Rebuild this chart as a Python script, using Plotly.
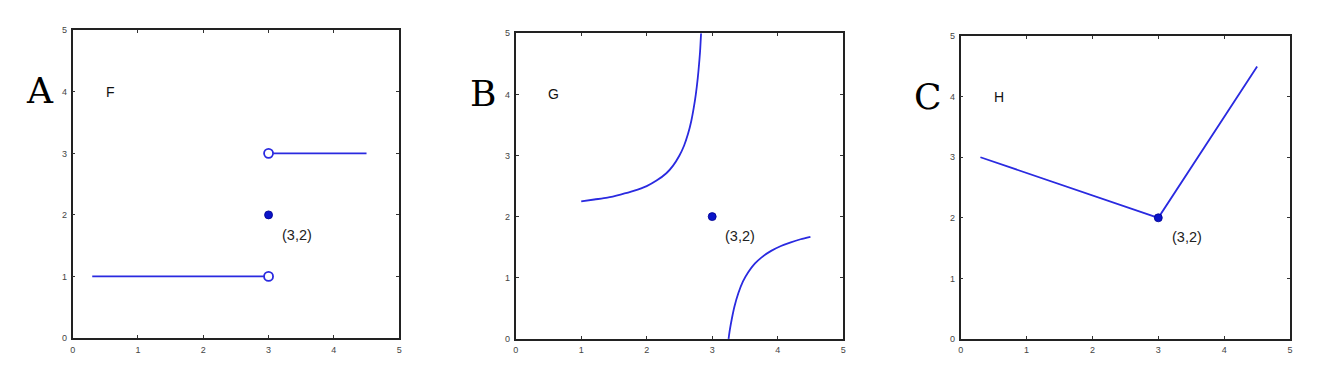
import plotly.graph_objects as go

BLUE = "#2a2ae0"
DOT = "#0a14c8"

# Panel A (F): step function
a_left_x = [0.3, 3.0]
a_left_y = [1.0, 1.0]
a_right_x = [3.0, 4.5]
a_right_y = [3.0, 3.0]
a_open_x = [3.0, 3.0]
a_open_y = [1.0, 3.0]

# Panel B (G): two hyperbola branches
b_up_x = [1.0, 1.2, 1.4, 1.6, 1.8, 2.0, 2.15, 2.3, 2.4, 2.5, 2.57, 2.63, 2.68, 2.72, 2.75, 2.78, 2.8, 2.815, 2.83]
b_up_y = [2.25, 2.28, 2.31, 2.36, 2.42, 2.5, 2.59, 2.71, 2.83, 3.0, 3.16, 3.35, 3.56, 3.79, 4.0, 4.27, 4.5, 4.7, 5.0]
b_lo_x = [3.25, 3.27, 3.3, 3.34, 3.4, 3.47, 3.55, 3.65, 3.75, 3.9, 4.05, 4.2, 4.35, 4.5]
b_lo_y = [0.0, 0.15, 0.33, 0.53, 0.75, 0.94, 1.09, 1.23, 1.33, 1.44, 1.52, 1.58, 1.63, 1.67]

# Panel C (H): piecewise linear
c_x = [0.3, 3.0, 4.5]
c_y = [3.0, 2.0, 4.5]

# Special point
pt_x = [3.0]
pt_y = [2.0]
pt_label = "(3,2)"

panel_letters = ["A", "B", "C"]
panel_names = ["F", "G", "H"]
ticks = [0, 1, 2, 3, 4, 5]

fig = go.Figure()

line_style = dict(color=BLUE, width=1.8)
dot_style = dict(color=DOT, size=8, line=dict(color="#000090", width=0.8))

# A
fig.add_trace(go.Scatter(x=a_left_x, y=a_left_y, mode="lines", line=line_style, xaxis="x", yaxis="y"))
fig.add_trace(go.Scatter(x=a_right_x, y=a_right_y, mode="lines", line=line_style, xaxis="x", yaxis="y"))
fig.add_trace(go.Scatter(x=a_open_x, y=a_open_y, mode="markers",
                         marker=dict(color="white", size=9, line=dict(color=BLUE, width=1.8)),
                         xaxis="x", yaxis="y"))
fig.add_trace(go.Scatter(x=pt_x, y=pt_y, mode="markers", marker=dot_style, xaxis="x", yaxis="y"))

# B
fig.add_trace(go.Scatter(x=b_up_x, y=b_up_y, mode="lines",
                         line=dict(color=BLUE, width=1.8, shape="spline", smoothing=0.8),
                         xaxis="x2", yaxis="y2"))
fig.add_trace(go.Scatter(x=b_lo_x, y=b_lo_y, mode="lines",
                         line=dict(color=BLUE, width=1.8, shape="spline", smoothing=0.8),
                         xaxis="x2", yaxis="y2"))
fig.add_trace(go.Scatter(x=pt_x, y=pt_y, mode="markers", marker=dot_style, xaxis="x2", yaxis="y2"))

# C
fig.add_trace(go.Scatter(x=c_x, y=c_y, mode="lines", line=line_style, xaxis="x3", yaxis="y3"))
fig.add_trace(go.Scatter(x=pt_x, y=pt_y, mode="markers", marker=dot_style, xaxis="x3", yaxis="y3"))

x_domains = [[0.0530, 0.3015], [0.3902, 0.6394], [0.7288, 0.9795]]
y_domains = [[0.0928, 0.9310], [0.0902, 0.9231], [0.0902, 0.9151]]

axis_common = dict(range=[0, 5], tickvals=ticks, ticktext=[str(t) for t in ticks],
                   showline=True, linecolor="#222", linewidth=1.6, mirror="ticks",
                   ticks="inside", ticklen=3, tickwidth=1, tickcolor="#333",
                   showgrid=False, zeroline=False, fixedrange=True,
                   tickfont=dict(family="Liberation Sans, Arial", size=9, color="#444"))

layout = dict(
    width=1320, height=377,
    margin=dict(l=0, r=0, t=0, b=0),
    paper_bgcolor="white", plot_bgcolor="white",
    showlegend=False,
)
for i in range(3):
    sx = "" if i == 0 else str(i + 1)
    layout["xaxis" + sx] = dict(axis_common, domain=x_domains[i], anchor="y" + sx, ticklabelstandoff=2)
    layout["yaxis" + sx] = dict(axis_common, domain=y_domains[i], anchor="x" + sx, ticklabelstandoff=2)

fig.update_layout(**layout)

letter_pos = [(37, 88), (482, 91), (929, 94)]
annotations = []
for i in range(3):
    sx = "" if i == 0 else str(i + 1)
    lx, ly = letter_pos[i]
    annotations.append(dict(text=panel_letters[i], x=lx / 1320, y=1 - ly / 377, xref="paper", yref="paper",
                            showarrow=False, xanchor="center", yanchor="middle",
                            font=dict(family="DejaVu Serif, Liberation Serif, serif", size=36, color="black")))
    annotations.append(dict(text=panel_names[i], x=0.58, y=4.0, xref="x" + sx, yref="y" + sx,
                            showarrow=False, xanchor="center", yanchor="middle",
                            font=dict(family="Liberation Sans, Arial", size=14, color="#111")))
    annotations.append(dict(text=pt_label, x=3.43, y=1.68, xref="x" + sx, yref="y" + sx,
                            showarrow=False, xanchor="center", yanchor="middle",
                            font=dict(family="Liberation Sans, Arial", size=14.5, color="#222")))
fig.update_layout(annotations=annotations)

fig.write_html("out.html")
